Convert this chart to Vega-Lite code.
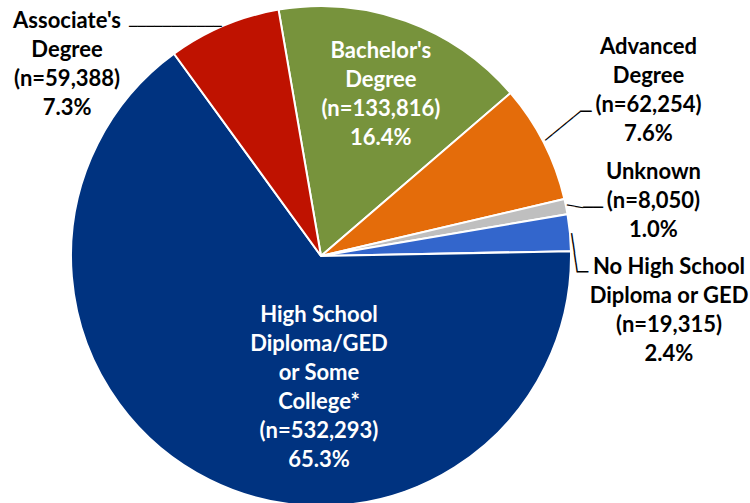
{
  "$schema": "https://vega.github.io/schema/vega-lite/v6.json",
  "width": 642,
  "height": 494,
  "autosize": {"type": "none"},
  "padding": {"left": 0, "top": 9, "right": 108, "bottom": 0},
  "background": "white",
  "config": {"view": {"stroke": null}},
  "data": {
    "values": [
      {"key": "bach", "category": "Bachelor's Degree", "n": 133816, "pct": 16.4, "ord": 1, "label": "Bachelor's\nDegree\n(n=133,816)\n16.4%"},
      {"key": "adv", "category": "Advanced Degree", "n": 62254, "pct": 7.6, "ord": 2, "label": "Advanced\nDegree\n(n=62,254)\n7.6%"},
      {"key": "unk", "category": "Unknown", "n": 8050, "pct": 1.0, "ord": 3, "label": "Unknown\n(n=8,050)\n1.0%"},
      {"key": "nohs", "category": "No High School Diploma or GED", "n": 19315, "pct": 2.4, "ord": 4, "label": "No High School\nDiploma or GED\n(n=19,315)\n2.4%"},
      {"key": "hs", "category": "High School Diploma/GED or Some College*", "n": 532293, "pct": 65.3, "ord": 5, "label": "High School\nDiploma/GED\nor Some\nCollege*\n(n=532,293)\n65.3%"},
      {"key": "assoc", "category": "Associate's Degree", "n": 59388, "pct": 7.3, "ord": 6, "label": "Associate's\nDegree\n(n=59,388)\n7.3%"}
    ]
  },
  "encoding": {
    "theta": {"field": "n", "type": "quantitative", "stack": true, "scale": {"range": [-0.17069, 6.11249]}},
    "order": {"field": "ord", "type": "quantitative", "sort": "ascending"}
  },
  "layer": [
    {
      "mark": {"type": "arc", "outerRadius": 250, "stroke": "white", "strokeWidth": 2},
      "encoding": {
        "color": {
          "field": "category", "type": "nominal", "legend": null,
          "scale": {
            "domain": ["Bachelor's Degree", "Advanced Degree", "Unknown", "No High School Diploma or GED", "High School Diploma/GED or Some College*", "Associate's Degree"],
            "range": ["#77933C", "#E46C0A", "#BFBFBF", "#3366CC", "#003380", "#BF1200"]
          }
        }
      }
    },
    {
      "mark": {"type": "text", "radius": 174, "dx": 1, "dy": -41.5, "font": "Lato", "fontWeight": "bold", "fontSize": 22, "lineHeight": 29, "lineBreak": "\n", "align": "center", "baseline": "middle", "color": "white"},
      "encoding": {"text": {"condition": {"test": "datum.key === 'bach'", "field": "label", "type": "nominal"}, "value": ""}}
    },
    {
      "mark": {"type": "text", "radius": 131, "dx": 56.3, "dy": -58.3, "font": "Lato", "fontWeight": "bold", "fontSize": 22, "lineHeight": 29, "lineBreak": "\n", "align": "center", "baseline": "middle", "color": "white"},
      "encoding": {"text": {"condition": {"test": "datum.key === 'hs'", "field": "label", "type": "nominal"}, "value": ""}}
    },
    {
      "mark": {"type": "text", "radius": 250, "dx": -156.7, "dy": -4.2, "font": "Lato", "fontWeight": "bold", "fontSize": 22, "lineHeight": 29, "lineBreak": "\n", "align": "center", "baseline": "middle", "color": "black"},
      "encoding": {"text": {"condition": {"test": "datum.key === 'assoc'", "field": "label", "type": "nominal"}, "value": ""}}
    },
    {
      "mark": {"type": "text", "radius": 250, "dx": 104.6, "dy": -95.5, "font": "Lato", "fontWeight": "bold", "fontSize": 22, "lineHeight": 29, "lineBreak": "\n", "align": "center", "baseline": "middle", "color": "black"},
      "encoding": {"text": {"condition": {"test": "datum.key === 'adv'", "field": "label", "type": "nominal"}, "value": ""}}
    },
    {
      "mark": {"type": "text", "radius": 250, "dx": 87.4, "dy": -34.6, "font": "Lato", "fontWeight": "bold", "fontSize": 22, "lineHeight": 29, "lineBreak": "\n", "align": "center", "baseline": "middle", "color": "black"},
      "encoding": {"text": {"condition": {"test": "datum.key === 'unk'", "field": "label", "type": "nominal"}, "value": ""}}
    },
    {
      "mark": {"type": "text", "radius": 250, "dx": 99.1, "dy": 34.8, "font": "Lato", "fontWeight": "bold", "fontSize": 22, "lineHeight": 29, "lineBreak": "\n", "align": "center", "baseline": "middle", "color": "black"},
      "encoding": {"text": {"condition": {"test": "datum.key === 'nohs'", "field": "label", "type": "nominal"}, "value": ""}}
    },
    {
      "mark": {"type": "text", "radius": 250, "dx": -2, "dy": 1, "angle": 0, "align": "right", "baseline": "middle", "font": "DejaVu Sans Mono", "fontSize": 14, "color": "black"},
      "encoding": {"text": {"condition": {"test": "datum.key === 'assoc'", "value": "───────────"}, "value": ""}}
    },
    {
      "mark": {"type": "text", "radius": 250, "dx": 2.6, "dy": -0.8, "angle": -39.6, "align": "left", "baseline": "middle", "font": "DejaVu Sans Mono", "fontSize": 15, "color": "black"},
      "encoding": {"text": {"condition": {"test": "datum.key === 'adv'", "value": "─────"}, "value": ""}}
    },
    {
      "mark": {"type": "text", "radius": 250, "dx": 36.1, "dy": -31, "angle": 0, "align": "left", "baseline": "middle", "font": "DejaVu Sans Mono", "fontSize": 19, "color": "black"},
      "encoding": {"text": {"condition": {"test": "datum.key === 'adv'", "value": "─"}, "value": ""}}
    },
    {
      "mark": {"type": "text", "radius": 250, "dx": 0.6, "dy": -1, "angle": 9.6, "align": "left", "baseline": "middle", "font": "DejaVu Sans Mono", "fontSize": 13.5, "color": "black"},
      "encoding": {"text": {"condition": {"test": "datum.key === 'unk'", "value": "──"}, "value": ""}}
    },
    {
      "mark": {"type": "text", "radius": 250, "dx": 16.9, "dy": 1.8, "angle": 0, "align": "left", "baseline": "middle", "font": "DejaVu Sans Mono", "fontSize": 16.6, "color": "black"},
      "encoding": {"text": {"condition": {"test": "datum.key === 'unk'", "value": "──"}, "value": ""}}
    },
    {
      "mark": {"type": "text", "radius": 250, "dx": 0.85, "dy": -1, "angle": 81.83, "align": "left", "baseline": "middle", "font": "DejaVu Sans Mono", "fontSize": 16.4, "color": "black"},
      "encoding": {"text": {"condition": {"test": "datum.key === 'nohs'", "value": "────"}, "value": ""}}
    },
    {
      "mark": {"type": "text", "radius": 250, "dx": 7.4, "dy": 40.3, "angle": 0, "align": "left", "baseline": "middle", "font": "DejaVu Sans Mono", "fontSize": 18.3, "color": "black"},
      "encoding": {"text": {"condition": {"test": "datum.key === 'nohs'", "value": "─"}, "value": ""}}
    }
  ]
}
